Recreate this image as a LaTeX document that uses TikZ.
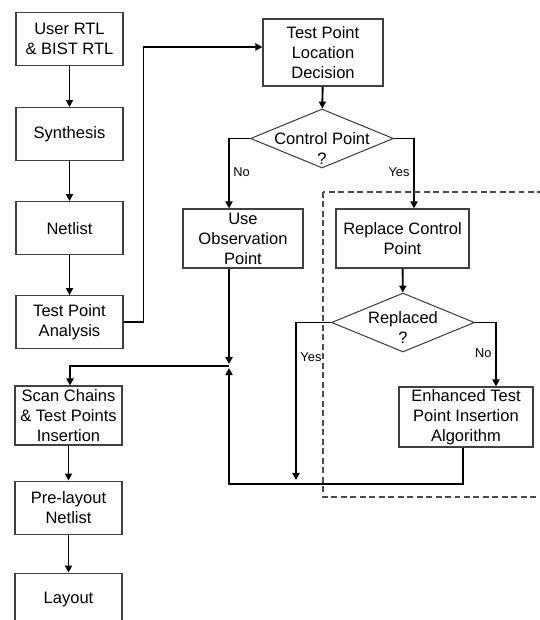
\documentclass[tikz,border=0pt]{standalone}
\usepackage{fontspec}
\setmainfont{Liberation Sans}
\usetikzlibrary{arrows.meta,calc,shapes.geometric,positioning}
\tikzset{
    block/.style={draw=black!75, line width=0.6pt, align=center, inner sep=1pt,
        minimum width=2.14cm, minimum height=1.06cm, font=\fontsize{9.4}{11.4}\selectfont},
    decision/.style={draw=black!75, line width=0.6pt, diamond, inner sep=0pt,
        minimum width=2.86cm, minimum height=1.18cm},
    flow/.style={line width=1.1pt, -{Triangle[length=4pt,width=4pt]}},
    flowline/.style={line width=1.1pt},
    branch/.style={font=\fontsize{7.3}{9}\selectfont, inner sep=2pt},
    dtext/.style={align=center, font=\fontsize{9.4}{11.4}\selectfont}
}

\begin{document}
\begin{tikzpicture}
    \useasboundingbox (0,0) rectangle (10.8,-12.4);

    % Left column of the flow.
    \node[block] (rtl) at (1.39,-0.78) {User RTL\\\& BIST RTL};
    \node[block, below=0.82cm of rtl] (syn) {Synthesis};
    \node[block, below=0.8cm of syn] (net) {Netlist};
    \node[block, below=0.8cm of net] (tpa) {Test Point\\Analysis};
    \node[block, minimum height=1.18cm] (scan) at (1.37,-8.31) {Scan Chains\\\& Test Points\\Insertion};
    \node[block, below=0.7cm of scan] (pre) {Pre-layout\\Netlist};
    \node[block, below=0.76cm of pre] (lay) {Layout};

    \foreach \a/\b in {rtl/syn,syn/net,net/tpa,scan/pre,pre/lay}
        \draw[flow] (\a) -- (\b);

    % Test point decision part.
    \node[block, minimum width=2.4cm, minimum height=1.34cm] (tpld) at (6.46,-1.05) {Test Point\\Location\\Decision};
    \node[decision, label={[dtext, yshift=-0.2cm]center:Control Point\\?}] (cp) at (6.44,-2.77) {};
    \node[block, minimum width=2.4cm, minimum height=1.18cm] (obs) at (4.86,-4.77) {Use\\Observation\\Point};
    \node[block, minimum width=2.66cm, minimum height=1.18cm] (rcp) at (8.05,-4.77) {Replace Control\\Point};
    \node[decision, label={[dtext, yshift=-0.1cm]center:Replaced\\?}] (rep) at (8.06,-6.45) {};
    \node[block, minimum width=2.68cm, minimum height=1.2cm] (eta) at (9.32,-8.34) {Enhanced Test\\Point Insertion\\Algorithm};

    \coordinate (j) at (4.58,-7.32);
    \coordinate (loop) at (4.58,-9.68);
    \coordinate (yesend) at (5.92,-9.6);

    % Connectors.
    \draw[flow] (tpa.east) -- ++(0.4,0) |- ([yshift=0.11cm]tpld.west);
    \draw[flow] (tpld) -- (cp);
    \draw[flow] (cp.west) -| ([xshift=-0.28cm]obs.north) node[branch, pos=0.74, right]{No};
    \draw[flow] (cp.east) -| ([xshift=0.23cm]rcp.north) node[branch, pos=0.74, left]{Yes};
    \draw[flow] (rcp) -- (rep);
    \draw[flow] (rep.west) -| (yesend) node[branch, pos=0.61, right]{Yes};
    \draw[flow] (rep.east) -| ([xshift=0.6cm]eta.north) node[branch, pos=0.74, left]{No};
    \draw[flow, shorten >=0.04cm] ([xshift=-0.28cm]obs.south) -- (j);
    \draw[flow, shorten >=0.04cm] ([xshift=-0.06cm]eta.south) |- (loop) -- (j);
    \draw[flow] (j) -| ([xshift=0.03cm]scan.north);

    % Dashed frame round the control point part.
    \draw[black!70, line width=0.8pt, dash pattern=on 3.4pt off 2pt] (6.46,-3.84) rectangle (11.2,-9.94);
\end{tikzpicture}
\end{document}
